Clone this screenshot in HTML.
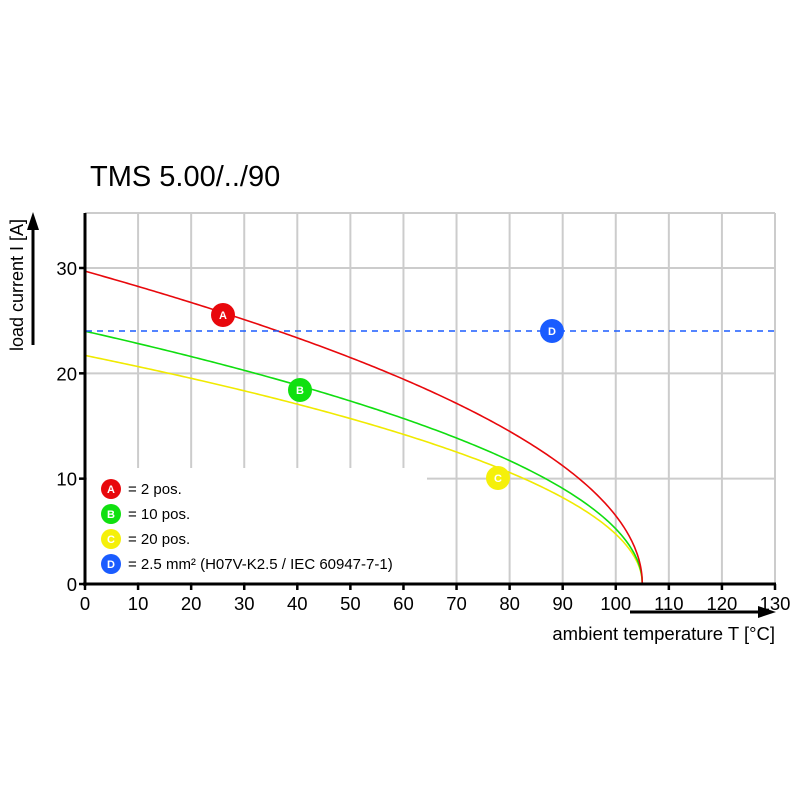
<!DOCTYPE html>
<html><head><meta charset="utf-8"><style>
body{margin:0;background:#fff}
svg{display:block;font-family:"Liberation Sans",sans-serif}
</style></head><body>
<svg id="s" width="800" height="800" xmlns="http://www.w3.org/2000/svg">
<rect width="800" height="800" fill="#fff"/>
<text x="90" y="186" font-size="29">TMS 5.00/../90</text>
<g id="grid" stroke="#cccccc" stroke-width="2"></g>
<rect x="87" y="468" width="340" height="114" fill="#fff"/>
<g id="curves" fill="none" stroke-width="1.6"></g>
<line x1="86" y1="331" x2="775" y2="331" stroke="#1a5cff" stroke-width="1.6" stroke-dasharray="6,5"/>
<line x1="85" y1="213" x2="85" y2="586" stroke="#000" stroke-width="3"/>
<line x1="83" y1="584" x2="776" y2="584" stroke="#000" stroke-width="3"/>
<g id="ticks" stroke="#000" stroke-width="2.5"></g>
<g id="lab" font-size="18.5"></g>
<text transform="translate(23,285) rotate(-90)" font-size="18" text-anchor="middle">load current I [A]</text>
<line x1="33" y1="345" x2="33" y2="228" stroke="#000" stroke-width="3"/>
<polygon points="33,212 27,230 39,230" fill="#000"/>
<line x1="630" y1="612" x2="760" y2="612" stroke="#000" stroke-width="3"/>
<polygon points="776,612 758,606 758,618" fill="#000"/>
<text x="775" y="640" font-size="18.5" text-anchor="end">ambient temperature T [°C]</text>
<g font-size="11" font-weight="bold" fill="#fff" text-anchor="middle">
<circle cx="223" cy="315" r="12" fill="#e8080c"/><text x="223" y="319">A</text>
<circle cx="300" cy="390" r="12" fill="#10e010"/><text x="300" y="394">B</text>
<circle cx="498" cy="478" r="12" fill="#f5f00a"/><text x="498" y="482">C</text>
<circle cx="552" cy="331" r="12" fill="#1a5cff"/><text x="552" y="335">D</text>
</g>
<g font-size="11" font-weight="bold" fill="#fff" text-anchor="middle">
<circle cx="111" cy="489" r="10" fill="#e8080c"/><text x="111" y="493">A</text>
<circle cx="111" cy="514" r="10" fill="#10e010"/><text x="111" y="518">B</text>
<circle cx="111" cy="539" r="10" fill="#f5f00a"/><text x="111" y="543">C</text>
<circle cx="111" cy="564" r="10" fill="#1a5cff"/><text x="111" y="568">D</text>
</g>
<g font-size="15">
<text x="128" y="494">= 2 pos.</text>
<text x="128" y="519">= 10 pos.</text>
<text x="128" y="544">= 20 pos.</text>
<text x="128" y="569">= 2.5 mm² (H07V-K2.5 / IEC 60947-7-1)</text>
</g>
</svg>
<script>
const X=t=>85+t*690/130, Y=v=>584-v*316/30, NS="http://www.w3.org/2000/svg";
function el(p,tag,a,txt){const e=document.createElementNS(NS,tag);for(const k in a)e.setAttribute(k,a[k]);if(txt!=null)e.textContent=txt;document.getElementById(p).appendChild(e);}
for(let t=10;t<=130;t+=10)el("grid","line",{x1:X(t),y1:213,x2:X(t),y2:584});
for(const v of[10,20,30])el("grid","line",{x1:85,y1:Y(v),x2:775,y2:Y(v)});
el("grid","line",{x1:85,y1:213,x2:775,y2:213});
for(let t=0;t<=130;t+=10){el("ticks","line",{x1:X(t),y1:584,x2:X(t),y2:590});el("lab","text",{x:X(t),y:610,"text-anchor":"middle"},t);}
for(const v of[0,10,20,30]){el("ticks","line",{x1:79,y1:Y(v),x2:85,y2:Y(v)});el("lab","text",{x:77,y:Y(v)+7,"text-anchor":"end"},v);}
for(const [i0,c] of [[21.7,"#f0ea00"],[24,"#10dd10"],[29.7,"#e8080c"]]){
 let d="";const ts=[];for(let t=0;t<104;t+=0.5)ts.push(t);for(let t=104;t<=105.0001;t+=0.05)ts.push(t);
 ts.forEach((t,i)=>{const v=i0*Math.sqrt(Math.max(0,1-t/105));d+=(i?"L":"M")+X(t).toFixed(2)+","+Y(v).toFixed(2);});
 el("curves","path",{d:d,stroke:c});}
</script>
</body></html>
